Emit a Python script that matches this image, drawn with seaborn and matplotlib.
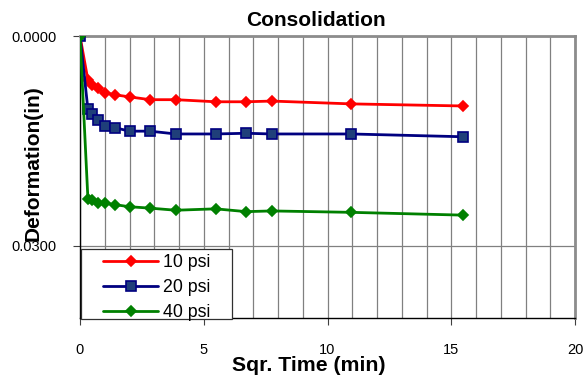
import numpy as np
import pandas as pd
import matplotlib
matplotlib.use("Agg")
import matplotlib.pyplot as plt
import seaborn as sns
from matplotlib.patches import Rectangle
from matplotlib.ticker import MultipleLocator, FormatStrFormatter

# sqrt of time (min)
sqr_time = [0.0, 0.32, 0.5, 0.71, 1.0, 1.41, 2.0, 2.83, 3.87, 5.48, 6.71, 7.75, 10.95, 15.49]

# deformation (in)
def_10psi = [0.0, 0.0063, 0.0070, 0.0075, 0.0081, 0.0084, 0.0087, 0.0091, 0.0091,
             0.0094, 0.0094, 0.0093, 0.0097, 0.0100]
def_20psi = [0.0, 0.0105, 0.0112, 0.0120, 0.0128, 0.0131, 0.0136, 0.0136, 0.0140,
             0.0140, 0.0139, 0.0140, 0.0140, 0.0144]
def_40psi = [0.0, 0.0233, 0.0235, 0.0238, 0.0239, 0.0241, 0.0244, 0.0246, 0.0249,
             0.0247, 0.0251, 0.0250, 0.0252, 0.0256]

series = ["10 psi", "20 psi", "40 psi"]

df = pd.DataFrame({
    "t": sqr_time * 3,
    "d": def_10psi + def_20psi + def_40psi,
    "load": [s for s in series for _ in sqr_time],
})

sns.set_style("white", {"text.color": "black", "axes.labelcolor": "black",
                        "xtick.color": "black", "ytick.color": "black"})
plt.rcParams["font.family"] = ["Liberation Sans", "DejaVu Sans"]

fig = plt.figure(figsize=(5.84, 3.77), dpi=100)
ax = fig.add_axes([80 / 584, 1 - 318 / 377, 495 / 584, 282 / 377])

styles = {
    "10 psi": dict(color="#FF0000", marker="D", mfc="#FF0000", mec="#FF0000", ms=5.5),
    "20 psi": dict(color="#000080", marker="s", mfc="#1F3F7A", mec="#000080", ms=6.5),
    "40 psi": dict(color="#008000", marker="D", mfc="#008000", mec="#008000", ms=5.5),
}
for s in series:
    st = styles[s]
    sns.lineplot(data=df[df["load"] == s], x="t", y="d", ax=ax, label=s,
                 color=st["color"], marker=st["marker"], markersize=st["ms"],
                 markerfacecolor=st["mfc"], markeredgecolor=st["mec"],
                 markeredgewidth=1.2, linewidth=2, zorder=3)

ax.set_xlim(0, 20)
ax.set_ylim(0.0403, 0)
ax.xaxis.set_major_locator(MultipleLocator(5))
ax.xaxis.set_minor_locator(MultipleLocator(1))
ax.set_yticks([0, 0.03])
ax.yaxis.set_major_formatter(FormatStrFormatter("%.4f"))

ax.grid(True, axis="x", which="both", color="#808080", linewidth=0.9)
ax.grid(True, axis="y", which="major", color="#808080", linewidth=0.9)
ax.set_axisbelow(True)

for side in ["top", "right"]:
    ax.spines[side].set_color("#8c8c8c")
    ax.spines[side].set_linewidth(2)
for side in ["left", "bottom"]:
    ax.spines[side].set_color("black")
    ax.spines[side].set_linewidth(1)

ax.tick_params(axis="both", which="major", direction="out", length=5, width=0.8,
               color="#404040", labelcolor="black", labelsize=10.5,
               bottom=True, left=True)
ax.tick_params(axis="x", which="major", pad=13)
ax.tick_params(axis="y", which="major", pad=12)
ax.tick_params(axis="x", which="minor", length=0)

ax.set_title("Consolidation", fontsize=15, fontweight="bold", x=0.477, pad=7,
             color="black")
ax.set_xlabel("Sqr. Time (min)", fontsize=15.3, fontweight="bold", color="black")
ax.xaxis.set_label_coords(0.4616, -0.135)
ax.set_ylabel("Deformation(in)", fontsize=15, fontweight="bold", color="black")
ax.yaxis.label.set_va("center")
ax.yaxis.set_label_coords(-0.095, 0.55)

# legend box (drawn separately so the entries can sit inset like the original)
box = Rectangle((1 / 495, (318 - 319) / 282), 151 / 495, 70 / 282,
                transform=ax.transAxes, facecolor="white", edgecolor="#303030",
                linewidth=0.9, zorder=4, clip_on=False)
ax.add_patch(box)
leg = ax.legend(loc="upper left", bbox_to_anchor=(23 / 495, (318 - 254) / 282),
                borderaxespad=0, borderpad=0, fontsize=12.8, frameon=False,
                handlelength=3.1, labelspacing=0.45, handletextpad=0.3)
leg.set_zorder(5)
for t in leg.get_texts():
    t.set_color("black")

fig.savefig("out.png", dpi=100)
